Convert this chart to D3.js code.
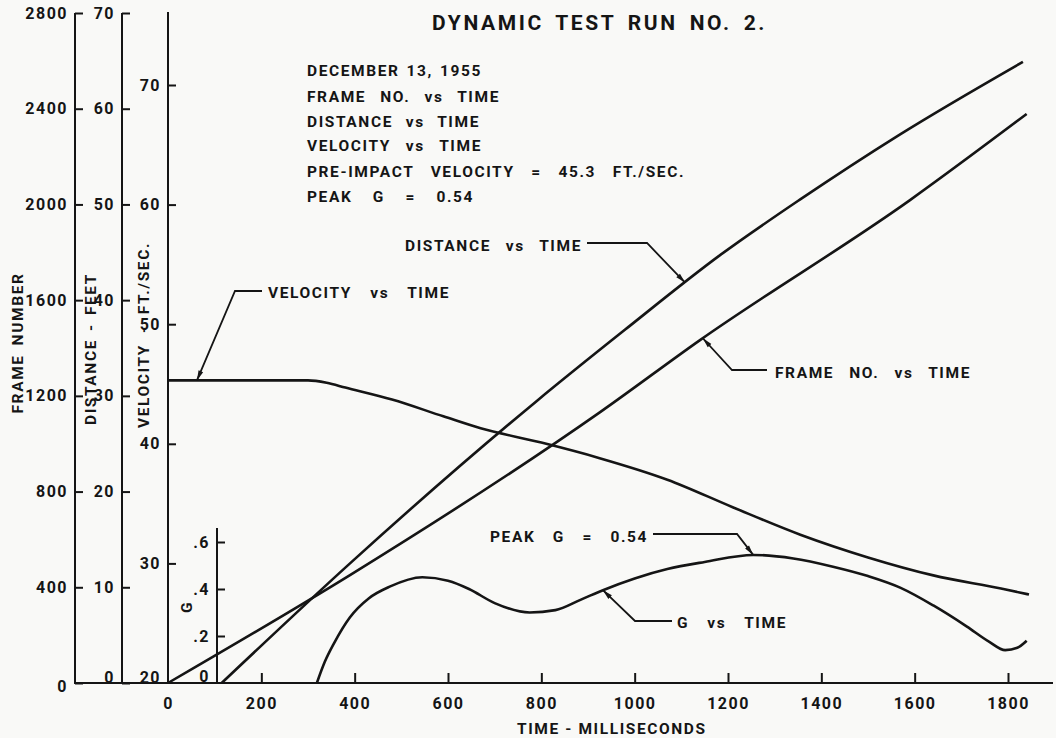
<!DOCTYPE html>
<meta charset="utf-8">
<head>
  <title>Dynamic test run no. 2</title>
</head>
<style>
body { margin: 0; background: #f9f9f7; }
svg { display: block; }
text { font-family: Roboto, "Liberation Sans", sans-serif; font-weight: bold; fill: #151515; letter-spacing: 1.6px; }
.axis path, .axis line { stroke: #151515; stroke-width: 2; }
.axis text { font-size: 16px; letter-spacing: 1.5px; }
.curve { fill: none; stroke: #151515; stroke-width: 2.6; }
.leader { fill: none; stroke: #151515; stroke-width: 1.8; }
</style>
<body>
<svg width=1056 height=738></svg>
<script src="https://cdnjs.cloudflare.com/ajax/libs/d3/7.8.5/d3.min.js"></script>
<script>
// tick labels
var timeTicks = [0, 200, 400, 600, 800, 1000, 1200, 1400, 1600, 1800];
var frameTicks = [0, 400, 800, 1200, 1600, 2000, 2400, 2800];
var distTicks = [0, 10, 20, 30, 40, 50, 60, 70];
var velTicks = [20, 30, 40, 50, 60, 70];
var gTicks = [0, 0.2, 0.4, 0.6];

// frame no. vs time (ms)
var frameTime = [0, 390, 926, 1140, 1590, 1840];
var frameNo   = [0, 451, 1132, 1433, 2018, 2378];

// distance (ft) vs time
var distTime = [115, 390, 791, 979, 1183, 1354, 1568, 1832];
var distFeet = [0, 12.5, 29.5, 36.9, 44.7, 50.5, 57.3, 64.9];

// velocity (ft/sec) vs time
var velTime = [0, 300, 340, 380, 480, 590, 670, 800, 925, 1070, 1210, 1355, 1500, 1640, 1785, 1845];
var velFps  = [45.3, 45.3, 45.1, 44.7, 43.7, 42.3, 41.3, 40.1, 38.8, 37.0, 34.7, 32.4, 30.5, 29.0, 27.9, 27.4];

// G vs time
var gTime = [319, 336, 356, 390, 430, 475, 545, 600, 645, 700, 775, 830, 885, 932, 1000, 1070, 1150, 1254, 1340, 1425, 1500, 1570, 1640, 1712, 1760, 1794, 1820, 1840];
var gVal  = [0, 0.09, 0.17, 0.28, 0.36, 0.41, 0.45, 0.435, 0.40, 0.34, 0.30, 0.31, 0.355, 0.395, 0.445, 0.485, 0.515, 0.545, 0.53, 0.495, 0.455, 0.405, 0.33, 0.24, 0.175, 0.14, 0.15, 0.18];

var infoLines = ["DECEMBER 13, 1955", "FRAME NO. vs TIME", "DISTANCE vs TIME", "VELOCITY vs TIME",
                 "PRE-IMPACT VELOCITY = 45.3 FT./SEC.", "PEAK G = 0.54"];

var svg = d3.select('svg');
var base = 683;

var x = d3.scaleLinear().domain([0, 1800]).range([168, 1008]);
var yFrame = d3.scaleLinear().domain([0, 2800]).range([base, 13]);
var yDist = d3.scaleLinear().domain([0, 70]).range([base, 13]);
var yVel = d3.scaleLinear().domain([20, 70]).range([base, 85]);
var yG = d3.scaleLinear().domain([0, 0.6]).range([base, 542]);

// stretch word gaps so a line of text spans a given width
function fit(sel, w) {
  sel.each(function() {
    var n = (this.textContent.match(/ /g) || []).length;
    if (!n) return;
    var l = this.getComputedTextLength();
    d3.select(this).style('word-spacing', Math.max(0, (w - l) / n) + 'px');
  });
}

// ---- left axes
function leftAxis(scale, ticks, xpos, fmt, bottomShift) {
  var g = svg.append('g').attr('class', 'axis')
    .attr('transform', 'translate(' + xpos + ',0)')
    .call(d3.axisLeft(scale).tickValues(ticks).tickSizeInner(-8).tickSizeOuter(0).tickPadding(7).tickFormat(fmt));
  g.selectAll('.tick').filter(function(d) { return d === ticks[0]; })
    .select('text').attr('y', bottomShift);
  return g;
}
leftAxis(yFrame, frameTicks, 75, d3.format('d'), 3).select('.domain').remove();
leftAxis(yDist, distTicks, 122, d3.format('d'), -6).select('.domain').remove();
var va = leftAxis(yVel, velTicks, 168, d3.format('d'), -6);
va.select('.domain').remove();
va.selectAll('.tick').filter(function(d) { return d === 20; }).select('line').remove();
var ga = leftAxis(yG, gTicks, 217, function(d) { return d === 0 ? '0' : d3.format('.1f')(d).replace(/^0/, ''); }, -7);
ga.select('.domain').remove();
ga.selectAll('.tick').filter(function(d) { return d === 0; }).select('line').remove();

// axis lines
var vlines = [[75, 13], [122, 13], [168, 12], [217, 528]];
svg.selectAll('.vline').data(vlines).enter().append('line')
  .attr('stroke', '#151515').attr('stroke-width', 2)
  .attr('x1', function(d) { return d[0]; }).attr('x2', function(d) { return d[0]; })
  .attr('y1', base).attr('y2', function(d) { return d[1]; });

// ---- time axis
var xa = svg.append('g').attr('class', 'axis')
  .attr('transform', 'translate(0,' + base + ')')
  .call(d3.axisBottom(x).tickValues(timeTicks).tickSizeInner(-10).tickSizeOuter(0).tickPadding(15).tickFormat(d3.format('d')));
xa.select('.domain').remove();
xa.selectAll('.tick').filter(function(d) { return d === 0; }).select('line').remove();
svg.append('line').attr('stroke', '#151515').attr('stroke-width', 2)
  .attr('x1', 74).attr('x2', 1053).attr('y1', base).attr('y2', base);

// ---- axis titles
function rotTitle(txt, cx, cy, w) {
  svg.append('text').attr('transform', 'translate(' + cx + ',' + cy + ') rotate(-90)')
    .attr('text-anchor', 'middle').attr('dy', '0.36em').style('font-size', '15.5px')
    .text(txt).call(fit, w);
}
rotTitle('FRAME NUMBER', 17, 343, 141);
rotTitle('DISTANCE - FEET', 90, 349, 152);
rotTitle('VELOCITY - FT./SEC.', 143, 335, 186);
rotTitle('G', 186, 607, 0);

svg.append('text').attr('x', 517).attr('y', 728).attr('dy', '0.36em').style('font-size', '15.5px')
  .text('TIME - MILLISECONDS').call(fit, 188);

svg.append('text').attr('x', 432).attr('y', 22).attr('dy', '0.36em').style('font-size', '21px')
  .style('letter-spacing', '2.6px')
  .text('DYNAMIC TEST RUN NO. 2.').call(fit, 335);

var infoY = [70, 96, 121, 145, 171, 196];
var infoW = [175, 193, 173, 175, 378, 167];
infoLines.forEach(function(s, i) {
  svg.append('text').attr('x', 307).attr('y', infoY[i]).attr('dy', '0.36em').style('font-size', '15.5px')
    .text(s).call(fit, infoW[i]);
});

// ---- curves
function series(ts, vs) { return ts.map(function(t, i) { return [t, vs[i]]; }); }
function draw(data, ys) {
  svg.append('path').attr('class', 'curve')
    .attr('d', d3.line().curve(d3.curveMonotoneX)
      .x(function(d) { return x(d[0]); }).y(function(d) { return ys(d[1]); })(data));
}
draw(series(frameTime, frameNo), yFrame);
draw(series(distTime, distFeet), yDist);
draw(series(velTime, velFps), yVel);
draw(series(gTime, gVal), yG);

// ---- callouts
svg.append('defs').append('marker').attr('id', 'arr')
  .attr('viewBox', '0 0 10 6').attr('refX', 10).attr('refY', 3)
  .attr('markerUnits', 'userSpaceOnUse').attr('markerWidth', 11).attr('markerHeight', 6)
  .attr('orient', 'auto')
  .append('path').attr('d', 'M0,0.5L10,3L0,5.5Z').attr('fill', '#151515');

var lookup = {
  frame: [d3.scaleLinear().domain(frameTime).range(frameNo), yFrame],
  dist: [d3.scaleLinear().domain(distTime).range(distFeet), yDist],
  vel: [d3.scaleLinear().domain(velTime).range(velFps), yVel],
  g: [d3.scaleLinear().domain(gTime).range(gVal), yG]
};
var notes = [
  { text: 'VELOCITY vs TIME', s: 'vel', t: 62, tx: 268, ty: 292, w: 182, lead: [[262, 291], [235, 291]] },
  { text: 'DISTANCE vs TIME', s: 'dist', t: 1108, tx: 405, ty: 245, w: 177, lead: [[587, 243], [647, 243]] },
  { text: 'FRAME NO. vs TIME', s: 'frame', t: 1146, tx: 775, ty: 372, w: 196, lead: [[767, 370], [732, 370]] },
  { text: 'PEAK G = 0.54', s: 'g', t: 1254, tx: 490, ty: 536, w: 158, lead: [[653, 534], [737, 534]] },
  { text: 'G vs TIME', s: 'g', t: 932, tx: 677, ty: 622, w: 110, lead: [[672, 621], [635, 621]] }
];
notes.forEach(function(n) {
  var f = lookup[n.s];
  var tip = [x(n.t), f[1](f[0](n.t))];
  svg.append('path').attr('class', 'leader').attr('marker-end', 'url(#arr)')
    .attr('d', d3.line()(n.lead.concat([tip])));
  svg.append('text').attr('x', n.tx).attr('y', n.ty).attr('dy', '0.36em').style('font-size', '15.5px')
    .text(n.text).call(fit, n.w);
});
</script>
</body>
</html>
